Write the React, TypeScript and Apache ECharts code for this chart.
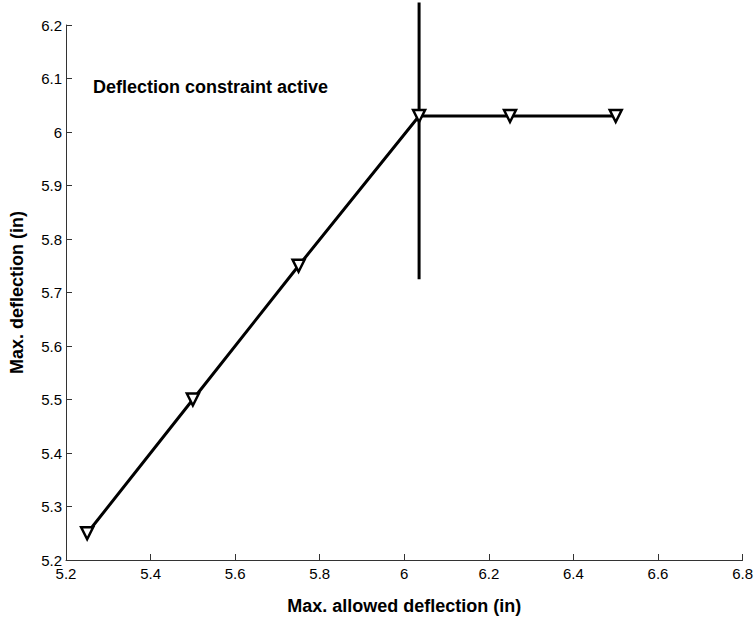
import React, { useEffect, useRef } from "react";
import * as echarts from "echarts";

const allowed = [5.25, 5.5, 5.75, 6.035, 6.25, 6.5];
const deflection = [5.25, 5.5, 5.75, 6.03, 6.03, 6.03];
const activeX = [6.035, 6.035];
const activeY = [5.725, 6.242];
const xTitle = "Max. allowed deflection (in)";
const yTitle = "Max. deflection (in)";
const note = "Deflection constraint active";

export default function App() {
  const ref = useRef<HTMLDivElement>(null);
  useEffect(() => {
    if (!ref.current) return;
    const chart = echarts.init(ref.current, undefined, { renderer: "svg" });
    const font = "'Liberation Sans', Arial, Helvetica, sans-serif";
    chart.setOption({
      animation: false,
      backgroundColor: "#fff",
      textStyle: { fontFamily: font },
      grid: { left: 63, right: 12, top: 25, bottom: 59, containLabel: false },
      xAxis: {
        type: "value",
        min: 5.2,
        max: 6.8,
        interval: 0.2,
        splitLine: { show: false },
        axisLine: { lineStyle: { color: "#333", width: 1 } },
        axisTick: { inside: true, length: 6, lineStyle: { color: "#333" } },
        axisLabel: { color: "#000", fontSize: 15, margin: 6, fontFamily: font },
        name: xTitle,
        nameLocation: "middle",
        nameGap: 37,
        nameTextStyle: { color: "#000", fontSize: 18, fontWeight: "bold", fontFamily: font },
      },
      yAxis: {
        type: "value",
        min: 5.2,
        max: 6.2,
        interval: 0.1,
        splitLine: { show: false },
        axisLine: { lineStyle: { color: "#333", width: 1 } },
        axisTick: { inside: true, length: 6, lineStyle: { color: "#333" } },
        axisLabel: { color: "#000", fontSize: 15, margin: 4, fontFamily: font },
        name: yTitle,
        nameLocation: "middle",
        nameGap: 40,
        nameTextStyle: { color: "#000", fontSize: 18, fontWeight: "bold", fontFamily: font },
      },
      series: [
        {
          type: "line",
          data: allowed.map((x, i) => [x, deflection[i]]),
          lineStyle: { color: "#000", width: 3 },
          symbol: "triangle",
          symbolRotate: 180,
          symbolSize: 12,
          itemStyle: { color: "#fff", borderColor: "#000", borderWidth: 2.5 },
          z: 3,
        },
        {
          type: "line",
          data: activeX.map((x, i) => [x, activeY[i]]),
          lineStyle: { color: "#000", width: 3 },
          symbol: "none",
          clip: false,
          z: 2,
        },
      ],
      graphic: [
        {
          type: "text",
          left: 93,
          top: 78,
          style: {
            text: note,
            fill: "#000",
            font: `bold 18px ${font}`,
          },
        },
      ],
    });
    return () => chart.dispose();
  }, []);
  return (
    <div
      ref={ref}
      style={{ position: "fixed", left: 0, top: 0, width: 756, height: 620 }}
    />
  );
}
